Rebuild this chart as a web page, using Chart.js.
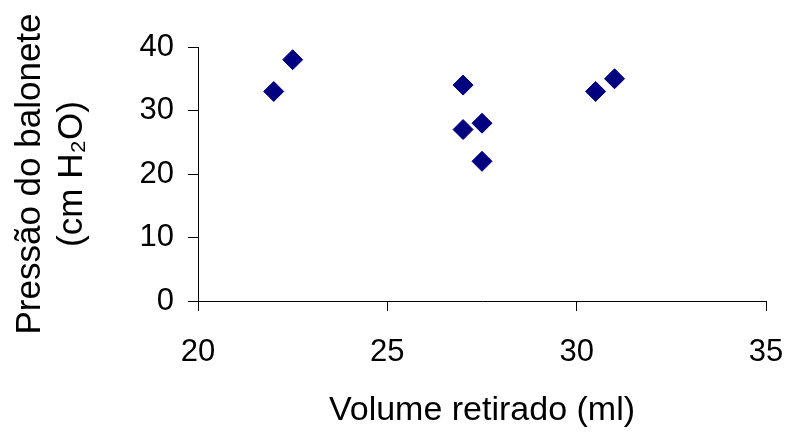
<!DOCTYPE html>
<html>
<head>
<meta charset="utf-8">
<script src="https://cdn.jsdelivr.net/npm/chart.js@4/dist/chart.umd.min.js"></script>
<style>
html,body{margin:0;padding:0;background:#fff;}
canvas{display:block;}
</style>
</head>
<body>
<canvas id="c" width="790" height="437"></canvas>
<script>
const volumeRetirado = [22, 22.5, 27, 27, 27.5, 27.5, 30.5, 31];
const pressaoBalonete = [33, 38, 34, 27, 28, 22, 33, 35];
const xTitle = "Volume retirado (ml)";
const yTitle = ["Pressão do balonete", "(cm H\u2082O)"];

const points = volumeRetirado.map((x, i) => ({ x: x, y: pressaoBalonete[i] }));

const fontFamily = "'Liberation Sans', Arial, sans-serif";

new Chart(document.getElementById('c'), {
  type: 'scatter',
  data: {
    datasets: [{
      data: points,
      pointStyle: 'rectRot',
      pointRadius: 10,
      pointBorderWidth: 1,
      backgroundColor: '#000080',
      borderColor: '#000080'
    }]
  },
  options: {
    responsive: false,
    animation: false,
    devicePixelRatio: 1,
    layout: { padding: { top: 47, right: 24, bottom: 0, left: 0 } },
    plugins: { legend: { display: false }, tooltip: { enabled: false } },
    scales: {
      x: {
        type: 'linear',
        min: 20, max: 35,
        afterFit: (s) => { s.height = 136; s.paddingRight = 0; s.paddingLeft = 0; },
        ticks: { stepSize: 5, color: '#000', padding: 23,
                 font: { family: fontFamily, size: 31, lineHeight: 1.2 } },
        grid: { drawOnChartArea: false, drawTicks: true, tickLength: 10, color: '#000', lineWidth: 1 },
        border: { display: true, color: '#000', width: 1 },
        title: { display: true, text: xTitle, color: '#000',
                 font: { family: fontFamily, size: 34, lineHeight: 1.2 },
                 padding: { top: 0, bottom: 6 } }
      },
      y: {
        type: 'linear',
        min: 0, max: 40,
        afterFit: (s) => { s.width = 198; },
        ticks: { stepSize: 10, color: '#000', padding: 14,
                 font: { family: fontFamily, size: 31, lineHeight: 1.2 } },
        grid: { drawOnChartArea: false, drawTicks: true, tickLength: 10, color: '#000', lineWidth: 1 },
        border: { display: true, color: '#000', width: 1 },
        title: { display: true, text: yTitle, color: '#000',
                 font: { family: fontFamily, size: 35, lineHeight: 1.2 },
                 padding: { top: 9, bottom: 0 } }
      }
    }
  }
});
</script>
</body>
</html>
